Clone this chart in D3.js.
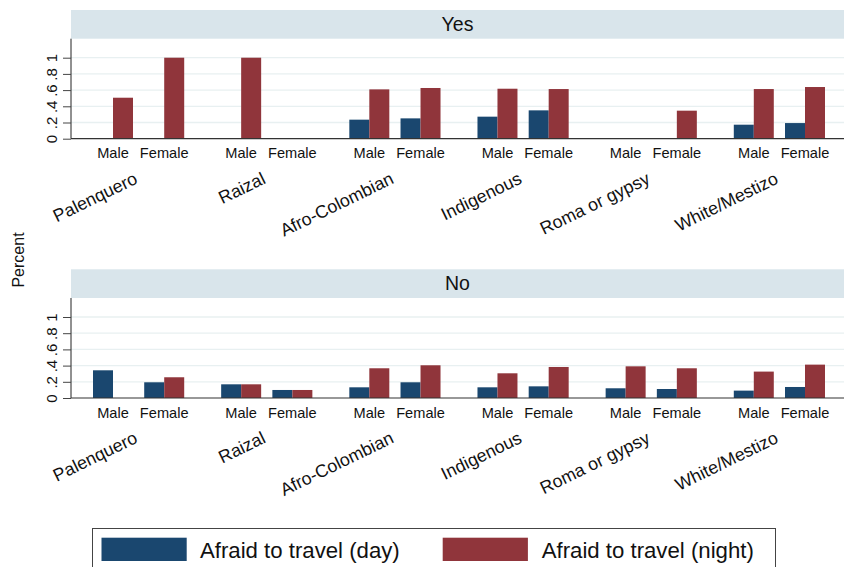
<!DOCTYPE html>
<html>
<head>
<meta charset="utf-8">
<script src="https://cdn.jsdelivr.net/npm/d3@7"></script>
<style>
  html, body { margin: 0; padding: 0; background: #fff; }
  svg { display: block; font-family: "Liberation Sans", Arial, Helvetica, sans-serif; }
</style>
</head>
<body>
<svg id="chart" width="844" height="567"></svg>
<script>
// Ethnic groups along the x axis, split by sex
const categories = ["Palenquero", "Raizal", "Afro-Colombian", "Indigenous", "Roma or gypsy", "White/Mestizo"];
const sexes = ["Male", "Female"];
const seriesNames = ["Afraid to travel (day)", "Afraid to travel (night)"];
const panels = ["Yes", "No"];

// Shares per category, ordered Male, Female within each group
const yesDay   = [0, 0,     0, 0,     0.235, 0.251, 0.272, 0.350, 0, 0,     0.173, 0.193];
const yesNight = [0.506, 1, 1, 0,     0.609, 0.626, 0.617, 0.613, 0, 0.346, 0.613, 0.638];
const noDay    = [0.342, 0.194, 0.169, 0.099, 0.132, 0.194, 0.132, 0.144, 0.120, 0.111, 0.091, 0.136];
const noNight  = [0,     0.256, 0.169, 0.099, 0.367, 0.404, 0.305, 0.383, 0.391, 0.367, 0.326, 0.412];

const yTicks = [0, 0.2, 0.4, 0.6, 0.8, 1];
const yTickLabels = ["0", ".2", ".4", ".6", ".8", "1"];

const colors = ["#1a476f", "#90353b"];

const svg = d3.select("#chart");

const plotLeft = 71, plotRight = 847;
const x0 = d3.scaleBand().domain(categories).range([plotLeft, plotRight])
  .paddingInner(0.2884).paddingOuter(0.1717);
const x1 = d3.scaleBand().domain(sexes).range([0, x0.bandwidth()])
  .paddingInner(0.219).paddingOuter(0);
const x2 = d3.scaleBand().domain(seriesNames).range([0, x1.bandwidth()]).padding(0);

const panelData = [
  { name: panels[0], stripTop: 10, day: yesDay, night: yesNight },
  { name: panels[1], stripTop: 269.3, day: noDay, night: noNight }
];

const stripH = 28.7;
const plotH = 100;

panelData.forEach(p => {
  const top = p.stripTop + stripH;
  const base = top + plotH;
  const y = d3.scaleLinear().domain([0, plotH / 81]).range([base, top]);
  const g = svg.append("g");

  // strip header
  g.append("rect").attr("x", plotLeft).attr("y", p.stripTop)
    .attr("width", plotRight - plotLeft).attr("height", stripH).attr("fill", "#d9e5eb");
  g.append("text").attr("x", (plotLeft + 844) / 2).attr("y", p.stripTop + 21)
    .attr("text-anchor", "middle").attr("font-size", 19.5).attr("fill", "#111").text(p.name);

  // gridlines
  g.selectAll(".grid").data(yTicks.slice(1)).enter().append("line")
    .attr("x1", plotLeft).attr("x2", plotRight)
    .attr("y1", d => y(d)).attr("y2", d => y(d))
    .attr("stroke", "#e8f0f1").attr("stroke-width", 1.3);

  // bars
  const rows = [];
  categories.forEach((c, ci) => sexes.forEach((s, si) => {
    const i = ci * 2 + si;
    rows.push({ c, s, k: 0, v: p.day[i] });
    rows.push({ c, s, k: 1, v: p.night[i] });
  }));
  g.selectAll(".bar").data(rows.filter(r => r.v > 0)).enter().append("rect")
    .attr("x", r => x0(r.c) + x1(r.s) + x2(seriesNames[r.k]))
    .attr("width", x2.bandwidth())
    .attr("y", r => y(r.v))
    .attr("height", r => y(0) - y(r.v))
    .attr("fill", r => colors[r.k]);

  // y axis
  const yAxis = d3.axisLeft(y).tickValues(yTicks).tickSize(8)
    .tickFormat((d, i) => yTickLabels[i]);
  const ay = g.append("g").attr("transform", `translate(${plotLeft},0)`).call(yAxis);
  ay.select(".domain").attr("stroke", "#222").attr("d", `M0,${top}V${base}`);
  ay.selectAll(".tick line").attr("stroke", "#444");
  ay.selectAll(".tick text")
    .attr("font-size", 15).attr("fill", "#111")
    .attr("x", 0).attr("dy", 0)
    .attr("text-anchor", "middle")
    .attr("transform", `translate(-14,0) rotate(-90)`);

  // baseline
  g.append("line").attr("x1", plotLeft).attr("x2", plotRight)
    .attr("y1", base).attr("y2", base).attr("stroke", "#333").attr("stroke-width", 1.2);

  // sex labels
  categories.forEach(c => sexes.forEach(s => {
    g.append("text")
      .attr("x", x0(c) + x1(s) + x1.bandwidth() / 2)
      .attr("y", base + 19.5)
      .attr("text-anchor", "middle").attr("font-size", 14.6).attr("fill", "#111")
      .text(s);
  }));

  // category labels, angled
  categories.forEach(c => {
    const cx = x0(c) + x0.bandwidth() / 2;
    g.append("text")
      .attr("transform", `translate(${cx},${base + 44}) rotate(-26)`)
      .attr("text-anchor", "end").attr("font-size", 17.8).attr("fill", "#111")
      .text(c);
  });
});

// y axis title
svg.append("text").attr("transform", "translate(23.5,260) rotate(-90)")
  .attr("text-anchor", "middle").attr("font-size", 16).attr("fill", "#111").text("Percent");

// legend
const lg = svg.append("g");
lg.append("rect").attr("x", 92.5).attr("y", 528.5).attr("width", 683).attr("height", 60)
  .attr("fill", "#fff").attr("stroke", "#444").attr("stroke-width", 1);
const legendItems = [
  { name: seriesNames[0], sx: 101.5, tx: 200 },
  { name: seriesNames[1], sx: 442.7, tx: 541.7 }
];
legendItems.forEach((d, i) => {
  lg.append("rect").attr("x", d.sx).attr("y", 537.7).attr("width", 85.2).attr("height", 23.3)
    .attr("fill", colors[i]);
  lg.append("text").attr("x", d.tx).attr("y", 558).attr("font-size", 22.2).attr("fill", "#111")
    .text(d.name);
});
</script>
</body>
</html>
